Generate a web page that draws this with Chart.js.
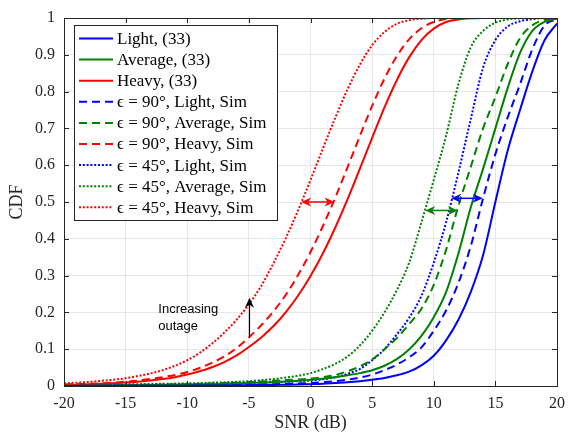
<!DOCTYPE html>
<html>
<head>
<meta charset="utf-8">
<script src="https://cdn.jsdelivr.net/npm/chart.js@4.4.0/dist/chart.umd.min.js"></script>
<style>
html, body { margin: 0; padding: 0; background: #fff; }
#wrap { width: 569px; height: 435px; }
</style>
</head>
<body>
<div id="wrap"><canvas id="cdf" width="569" height="435"></canvas></div>
<script>
// SNR grid (dB)
// ================================================================================
const snr = [-20, -19, -18, -17, -16, -15, -14, -13, -12, -11, -10, -9, -8, -7, -6, -5, -4, -3, -2, -1,
	0, 1, 2, 3, 4, 5, 6, 7, 8, 9, 10, 11, 12, 13, 14, 15, 16, 17, 18, 19, 20];

// CDF values, one per snr entry
const lightEq = [0.0003, 0.0003, 0.0004, 0.0004, 0.0005, 0.0005, 0.0006, 0.0007, 0.0008, 0.0009,
	0.001, 0.0012, 0.0014, 0.0016, 0.0019, 0.0022, 0.0026, 0.003, 0.0035, 0.004,
	0.005, 0.006, 0.008, 0.010, 0.013, 0.017, 0.022, 0.029, 0.039, 0.056,
	0.082, 0.124, 0.180, 0.255, 0.355, 0.500, 0.640, 0.750, 0.855, 0.940, 0.985];
const averageEq = [0.001, 0.001, 0.0012, 0.0014, 0.0016, 0.002, 0.0023, 0.0026, 0.003, 0.0035,
	0.004, 0.0045, 0.005, 0.006, 0.007, 0.008, 0.009, 0.010, 0.012, 0.014,
	0.017, 0.020, 0.024, 0.029, 0.035, 0.043, 0.055, 0.073, 0.099, 0.136,
	0.187, 0.255, 0.360, 0.485, 0.590, 0.700, 0.810, 0.905, 0.965, 0.990, 0.998];
const heavyEq = [0.003, 0.0037, 0.0046, 0.0058, 0.0073, 0.0092, 0.0116, 0.0147, 0.0188, 0.024,
	0.031, 0.040, 0.051, 0.065, 0.083, 0.106, 0.132, 0.163, 0.201, 0.246,
	0.299, 0.360, 0.430, 0.507, 0.590, 0.674, 0.757, 0.831, 0.893, 0.940,
	0.971, 0.989, 0.996, 0.999, 1, 1, 1, 1, 1, 1, 1];
const light90 = [0.0005, 0.0006, 0.0007, 0.0008, 0.0009, 0.001, 0.0012, 0.0014, 0.0016, 0.0018,
	0.002, 0.0023, 0.0027, 0.003, 0.0035, 0.004, 0.0045, 0.005, 0.006, 0.007,
	0.008, 0.010, 0.013, 0.017, 0.023, 0.031, 0.043, 0.058, 0.078, 0.105,
	0.150, 0.205, 0.280, 0.380, 0.510, 0.630, 0.730, 0.820, 0.915, 0.980, 0.997];
const average90 = [0.001, 0.0012, 0.0015, 0.0018, 0.002, 0.0025, 0.003, 0.0035, 0.004, 0.0045,
	0.005, 0.006, 0.007, 0.008, 0.009, 0.010, 0.012, 0.014, 0.016, 0.018,
	0.020, 0.024, 0.030, 0.040, 0.053, 0.072, 0.100, 0.130, 0.168, 0.210,
	0.275, 0.370, 0.490, 0.595, 0.700, 0.785, 0.875, 0.945, 0.980, 0.995, 0.999];
const heavy90 = [0.004, 0.005, 0.006, 0.0075, 0.0093, 0.0117, 0.0148, 0.019, 0.024, 0.030,
	0.038, 0.049, 0.063, 0.080, 0.103, 0.132, 0.165, 0.203, 0.248, 0.302,
	0.364, 0.434, 0.511, 0.594, 0.679, 0.761, 0.835, 0.896, 0.942, 0.972,
	0.989, 0.997, 0.999, 1, 1, 1, 1, 1, 1, 1, 1];
const light45 = [0.001, 0.0012, 0.0014, 0.0016, 0.0018, 0.002, 0.0025, 0.003, 0.0035, 0.004,
	0.0045, 0.005, 0.006, 0.007, 0.008, 0.009, 0.010, 0.011, 0.012, 0.013,
	0.015, 0.018, 0.024, 0.033, 0.046, 0.070, 0.100, 0.140, 0.185, 0.245,
	0.335, 0.445, 0.580, 0.725, 0.865, 0.940, 0.977, 0.991, 0.997, 1, 1];
const average45 = [0.002, 0.0025, 0.003, 0.0035, 0.004, 0.0045, 0.005, 0.0055, 0.006, 0.0065,
	0.007, 0.008, 0.009, 0.010, 0.0115, 0.013, 0.016, 0.019, 0.023, 0.028,
	0.035, 0.046, 0.060, 0.080, 0.110, 0.150, 0.200, 0.260, 0.335, 0.445,
	0.560, 0.680, 0.820, 0.920, 0.965, 0.987, 0.996, 0.999, 1, 1, 1];
const heavy45 = [0.007, 0.009, 0.011, 0.014, 0.017, 0.021, 0.027, 0.034, 0.043, 0.055,
	0.070, 0.090, 0.115, 0.145, 0.180, 0.222, 0.272, 0.334, 0.402, 0.478,
	0.560, 0.645, 0.728, 0.806, 0.873, 0.926, 0.962, 0.984, 0.994, 0.998,
	1, 1, 1, 1, 1, 1, 1, 1, 1, 1, 1];

const seriesLabels = ["Light, (33)", "Average, (33)", "Heavy, (33)",
	"\u03f5 = 90\u00b0, Light, Sim", "\u03f5 = 90\u00b0, Average, Sim", "\u03f5 = 90\u00b0, Heavy, Sim",
	"\u03f5 = 45\u00b0, Light, Sim", "\u03f5 = 45\u00b0, Average, Sim", "\u03f5 = 45\u00b0, Heavy, Sim"];
const seriesValues = [lightEq, averageEq, heavyEq, light90, average90, heavy90, light45, average45, heavy45];
const seriesColors = ["#0000ff", "#008000", "#ff0000"];
const seriesDashes = [[], [8, 5], [2, 1.8]];

// annotations, in data units
const gapArrows = [
	{y: 0.5, from: -0.76, to: 1.95, color: "#ff0000"},
	{y: 0.477, from: 9.31, to: 11.96, color: "#008000"},
	{y: 0.51, from: 11.42, to: 13.98, color: "#0000ff"}
];
const outageArrow = {x: -4.95, from: 0.132, to: 0.24};
const outageText = {x: -12.35, y: 0.199, lines: ["Increasing", "outage"]};

const AXIS_COLOR = "#262626";
const SERIF = "'Liberation Serif', 'DejaVu Serif', serif";

let datasets = seriesValues.map((vals, i) => ({
	label: seriesLabels[i],
	data: snr.map((x, k) => ({x: x, y: vals[k]})),
	borderColor: seriesColors[i % 3],
	borderDash: seriesDashes[Math.floor(i / 3)],
	borderWidth: 2,
	pointRadius: 0,
	fill: false,
	cubicInterpolationMode: 'monotone'
}));

function arrowHead(ctx, tipX, tipY, dirX, dirY, len, half) {
	// MATLAB-like "vback" head
	let px = -dirY, py = dirX;
	let bx = tipX - dirX * len, by = tipY - dirY * len;
	ctx.beginPath();
	ctx.moveTo(tipX, tipY);
	ctx.lineTo(bx + px * half, by + py * half);
	ctx.lineTo(tipX - dirX * len * 0.7, tipY - dirY * len * 0.7);
	ctx.lineTo(bx - px * half, by - py * half);
	ctx.closePath();
	ctx.fill();
}

const overlay = {
	id: 'overlay',
	afterDatasetsDraw(chart) {
		let ctx = chart.ctx, area = chart.chartArea;
		let xs = chart.scales.x, ys = chart.scales.y;
		ctx.save();

		// gap arrows
		gapArrows.forEach(a => {
			let y = ys.getPixelForValue(a.y);
			let x1 = xs.getPixelForValue(a.from), x2 = xs.getPixelForValue(a.to);
			ctx.strokeStyle = a.color;
			ctx.fillStyle = a.color;
			ctx.lineWidth = 1.5;
			ctx.beginPath();
			ctx.moveTo(x1 + 5, y);
			ctx.lineTo(x2 - 5, y);
			ctx.stroke();
			arrowHead(ctx, x1, y, -1, 0, 10, 4.5);
			arrowHead(ctx, x2, y, 1, 0, 10, 4.5);
		});

		// outage arrow
		let ax = xs.getPixelForValue(outageArrow.x);
		let ay1 = ys.getPixelForValue(outageArrow.from), ay2 = ys.getPixelForValue(outageArrow.to);
		ctx.strokeStyle = "#000";
		ctx.fillStyle = "#000";
		ctx.lineWidth = 1.2;
		ctx.beginPath();
		ctx.moveTo(ax, ay1);
		ctx.lineTo(ax, ay2 + 5);
		ctx.stroke();
		arrowHead(ctx, ax, ay2, 0, -1, 10, 4.5);

		ctx.font = "13px 'Liberation Sans', Arial, sans-serif";
		ctx.textAlign = "left";
		ctx.textBaseline = "alphabetic";
		let tx = xs.getPixelForValue(outageText.x), ty = ys.getPixelForValue(outageText.y);
		outageText.lines.forEach((s, i) => ctx.fillText(s, tx, ty + i * 17));

		// legend box
		let lx = area.left + 10, ly = area.top + 7, lw = 203, lh = 195, row = 21.1;
		ctx.fillStyle = "#fff";
		ctx.fillRect(lx, ly, lw, lh);
		ctx.strokeStyle = "#262626";
		ctx.lineWidth = 1;
		ctx.setLineDash([]);
		ctx.strokeRect(lx + 0.5, ly + 0.5, lw, lh);
		ctx.font = "17px " + SERIF;
		ctx.textBaseline = "middle";
		chart.data.datasets.forEach((ds, i) => {
			let cy = ly + 13.5 + i * row;
			ctx.strokeStyle = ds.borderColor;
			ctx.lineWidth = 2;
			ctx.setLineDash(ds.borderDash);
			ctx.beginPath();
			ctx.moveTo(lx + 5, cy);
			ctx.lineTo(lx + 39, cy);
			ctx.stroke();
			ctx.setLineDash([]);
			ctx.fillStyle = "#000";
			ctx.fillText(ds.label, lx + 43, cy + 1);
		});

		// box and inward ticks
		ctx.strokeStyle = AXIS_COLOR;
		ctx.lineWidth = 1;
		ctx.strokeRect(area.left + 0.5, area.top + 0.5, area.right - area.left, area.bottom - area.top);
		ctx.beginPath();
		xs.ticks.forEach(t => {
			let x = Math.round(xs.getPixelForValue(t.value)) + 0.5;
			ctx.moveTo(x, area.bottom); ctx.lineTo(x, area.bottom - 5);
			ctx.moveTo(x, area.top); ctx.lineTo(x, area.top + 5);
		});
		ys.ticks.forEach(t => {
			let y = Math.round(ys.getPixelForValue(t.value)) + 0.5;
			ctx.moveTo(area.left, y); ctx.lineTo(area.left + 5, y);
			ctx.moveTo(area.right, y); ctx.lineTo(area.right - 5, y);
		});
		ctx.stroke();
		ctx.restore();
	}
};

let cdf_chart = new Chart(document.getElementById('cdf'), {
	type: 'line',
	data: {datasets: datasets},
	options: {
		responsive: false,
		animation: false,
		devicePixelRatio: 1,
		layout: {padding: {left: 0, right: 12, top: 18, bottom: 0}},
		plugins: {legend: {display: false}, tooltip: {enabled: false}},
		scales: {
			x: {
				type: 'linear', min: -20, max: 20,
				afterFit: s => { s.height = 49; s.paddingLeft = 0; s.paddingRight = 0; },
				ticks: {stepSize: 5, padding: 8, color: AXIS_COLOR, font: {family: SERIF, size: 16}},
				grid: {color: '#e6e6e6', drawTicks: false},
				border: {display: false},
				title: {display: true, text: 'SNR (dB)', color: AXIS_COLOR, font: {family: SERIF, size: 18}, padding: {top: 0, bottom: 1}}
			},
			y: {
				type: 'linear', min: 0, max: 1,
				afterFit: s => { s.width = 64; s.paddingTop = 0; s.paddingBottom = 0; },
				ticks: {stepSize: 0.1, padding: 9, color: AXIS_COLOR, font: {family: SERIF, size: 16},
					callback: v => String(+v.toFixed(1))},
				grid: {color: '#e6e6e6', drawTicks: false},
				border: {display: false},
				title: {display: true, text: 'CDF', color: AXIS_COLOR, font: {family: SERIF, size: 18}, padding: {top: 6, bottom: 0}}
			}
		}
	},
	plugins: [overlay]
});
</script>
</body>
</html>
